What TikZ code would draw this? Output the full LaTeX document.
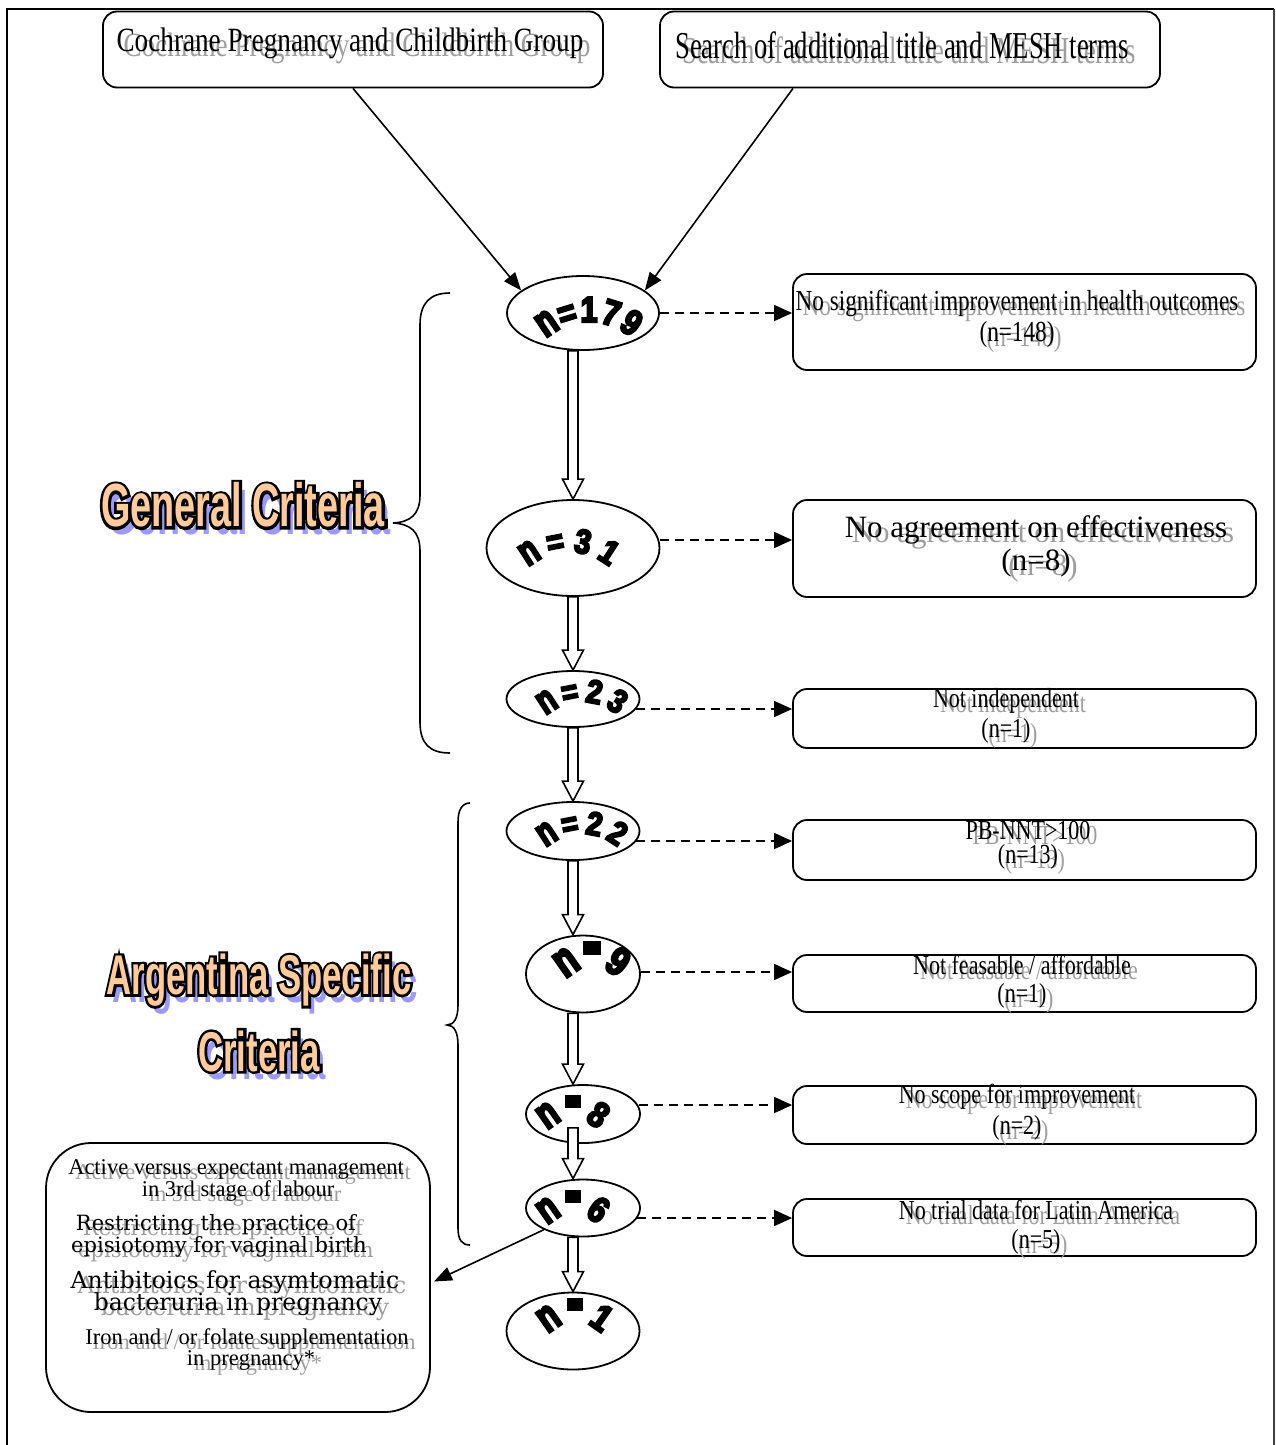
\documentclass[tikz,border=0pt]{standalone}
\usepackage{graphicx}
\usepackage{fontspec}
\setmainfont{Liberation Serif}
\newfontfamily\tnfont{Liberation Serif}[FakeStretch=0.8]
\newfontfamily\tmfont{Liberation Serif}[FakeStretch=0.7]
\newfontfamily\trfont{Liberation Serif}
\newfontfamily\bkfont{DejaVu Serif}
\newfontfamily\wafont{Liberation Sans Bold}[FakeStretch=0.85,FakeBold=6]
\newfontfamily\wbfont{Liberation Sans Bold}[FakeStretch=0.62]
\newfontfamily\wbofont{Liberation Sans Bold}[FakeStretch=0.62,FakeBold=9]
\usetikzlibrary{shapes.geometric,arrows.meta,calc}
\definecolor{peach}{HTML}{FFCC99}
\definecolor{lav}{HTML}{9999FF}
\newcommand\blksq{\raisebox{0.3em}{\rule{0.45em}{0.36em}}}
\newcommand\tallN{\scalebox{1}[1.2]{n}}
\newcommand\gtext[4]{%
  \node[ghost,font=#3] (#1g) at ($(#2)+(7,5)$) {#4};
  \node[txt,font=#3] (#1) at (#2) {#4};}
\newcommand\hollowarrow[3][0]{%
  \draw[hollowarr] let \p1=(#2.south), \p2=(#3.north) in
   (568pt,\y1+#1pt) -- (568pt,\y2+20pt) -- (562.5pt,\y2+20pt) -- (573pt,\y2)
   -- (583.5pt,\y2+20pt) -- (578pt,\y2+20pt) -- (578pt,\y1+#1pt) -- cycle;}
\newcommand\wordart[8]{%
  \foreach \ch [count=\idx from 0] in {#8} {%
    \pgfmathsetmacro\ang{#5+\idx*#6}%
    \pgfmathsetmacro\rot{-(\ang+90)}%
    \node[anchor=base,inner sep=0pt,rotate=\rot,font=\wafont\fontsize{#7}{#7}\selectfont]
      (#1-\idx) at ({#2+#4*cos(\ang)},{#3+#4*sin(\ang)}) {\ch};}}
\newcommand\watext[5]{%
  \node[txt,text=lav,font=\wbfont\fontsize{#4}{#4}\selectfont] (#1s) at ({#2+6},{#3+8}) {#5};
  \node[txt,text=black,font=\wbofont\fontsize{#4}{#4}\selectfont] (#1o) at (#2,#3) {#5};
  \node[txt,text=peach,font=\wbfont\fontsize{#4}{#4}\selectfont] (#1) at (#2,#3) {#5};}
\begin{document}
\begin{tikzpicture}[x=1pt,y=-1pt,
  txt/.style={inner sep=0pt,anchor=center},
  ghost/.style={txt,text=black!38},
  rbox/.style={draw,line width=1.8pt,rounded corners=14pt,inner sep=0pt},
  ell/.style={ellipse,draw,line width=1.8pt,fill=white,inner sep=0pt},
  hollowarr/.style={draw,line width=1.6pt,fill=white,line join=miter},
  dasharr/.style={line width=1.6pt,dash pattern=on 9pt off 6pt,-{Triangle[length=18pt,width=16pt]}},
  solidarr/.style={line width=1.6pt,-{Triangle[length=18pt,width=14pt]}},
  bracestyle/.style={line width=1.6pt}]
\useasboundingbox (0,0) rectangle (1275,1445);
% frame
\draw[line width=1.5pt] (7,1445) -- (7,9) -- (1274,9);
\draw[line width=2.5pt,black!75] (1274,9) -- (1274,1445);

% top boxes
\node[rbox,minimum width=500pt,minimum height=76pt] (c1) at (353,49.5) {};
\node[rbox,minimum width=500pt,minimum height=76pt] (c2) at (910,49.5) {};
\gtext{c1t}{350,43}{\tnfont\fontsize{34}{36}\selectfont}{Cochrane Pregnancy and Childbirth Group}
\gtext{c2t}{902,45}{\tmfont\fontsize{38}{40}\selectfont}{Search of additional title and MESH terms}

% right boxes
\node[rbox,minimum width=463pt,minimum height=96pt] (r1) at (1024.5,322) {};
\node[rbox,minimum width=463pt,minimum height=97pt] (r2) at (1024.5,548.5) {};
\node[rbox,minimum width=463pt,minimum height=59pt] (r3) at (1024.5,718.5) {};
\node[rbox,minimum width=463pt,minimum height=60pt] (r4) at (1024.5,850) {};
\node[rbox,minimum width=463pt,minimum height=57pt] (r5) at (1024.5,983.5) {};
\node[rbox,minimum width=463pt,minimum height=58pt] (r6) at (1024.5,1115) {};
\node[rbox,minimum width=463pt,minimum height=57pt] (r7) at (1024.5,1227.5) {};
\gtext{r1a}{1017,303}{\tnfont\fontsize{29}{30}\selectfont}{No significant improvement in health outcomes}
\gtext{r1b}{1017,335}{\tnfont\fontsize{29}{30}\selectfont}{(n=148)}
\gtext{r2a}{1036,530}{\trfont\fontsize{31}{33}\selectfont}{No agreement on effectiveness}
\gtext{r2b}{1036,563}{\trfont\fontsize{31}{33}\selectfont}{(n=8)}
\gtext{r3a}{1006,701}{\tnfont\fontsize{27.5}{29}\selectfont}{Not independent}
\gtext{r3b}{1006,731}{\tnfont\fontsize{27.5}{29}\selectfont}{(n=1)}
\gtext{r4a}{1028,830}{\tnfont\fontsize{27.5}{29}\selectfont}{PB-NNT>100}
\gtext{r4b}{1028,857}{\tnfont\fontsize{27.5}{29}\selectfont}{(n=13)}
\gtext{r5a}{1022,965}{\tnfont\fontsize{27.5}{29}\selectfont}{Not feasable / affordable}
\gtext{r5b}{1022,996}{\tnfont\fontsize{27.5}{29}\selectfont}{(n=1)}
\gtext{r6a}{1017,1097}{\tnfont\fontsize{27.5}{29}\selectfont}{No scope for improvement}
\gtext{r6b}{1017,1128}{\tnfont\fontsize{27.5}{29}\selectfont}{(n=2)}
\gtext{r7a}{1036,1210}{\tnfont\fontsize{27.5}{29}\selectfont}{No trial data for Latin America}
\gtext{r7b}{1036,1242}{\tnfont\fontsize{27.5}{29}\selectfont}{(n=5)}

% left bottom box
\node[draw,line width=1.8pt,rounded corners=45pt,minimum width=384pt,minimum height=269pt,inner sep=0pt] (lb) at (238,1277.5) {};
\gtext{l1}{236,1169}{\trfont\fontsize{22.5}{24}\selectfont}{Active versus expectant management}
\gtext{l2}{238,1191}{\trfont\fontsize{22.5}{24}\selectfont}{in 3rd stage of labour}
\gtext{l3}{216,1225}{\bkfont\fontsize{21}{23}\selectfont}{Restricting the practice of}
\gtext{l4}{219,1247}{\bkfont\fontsize{21}{23}\selectfont}{episiotomy for vaginal birth}
\gtext{l5}{235,1282}{\bkfont\fontsize{23.5}{25}\selectfont}{Antibitoics for asymtomatic}
\gtext{l6}{238,1304}{\bkfont\fontsize{23.5}{25}\selectfont}{bacteruria in pregnancy}
\gtext{l7}{247,1339}{\trfont\fontsize{22.5}{24}\selectfont}{Iron and / or folate supplementation}
\gtext{l8}{251,1360}{\trfont\fontsize{22.5}{24}\selectfont}{in pregnancy*}

% braces
\draw[bracestyle] (450,293) .. controls (430,293) and (420,303) .. (420,325) -- (420,495)
  .. controls (420,515) and (410,522) .. (393,523) .. controls (410,524) and (420,531) .. (420,551)
  -- (420,722) .. controls (420,744) and (430,753) .. (450,753);
\draw[bracestyle] (470,803) .. controls (462,803) and (458,810) .. (458,822) -- (458,1005)
  .. controls (458,1018) and (454,1025) .. (447,1025) .. controls (454,1025) and (458,1032) .. (458,1045)
  -- (458,1228) .. controls (458,1240) and (462,1245) .. (470,1245);

% WordArt titles
\watext{gc}{243}{505}{61}{General Criteria}
\watext{as}{259}{980}{56}{Argentina Specific}
\watext{cr}{259}{1051}{56}{Criteria}

% ellipses
\node[ell,minimum width=152pt,minimum height=74pt] (e179) at (583,313) {};
\node[ell,minimum width=173pt,minimum height=96pt] (e31) at (573,548) {};
\node[ell,minimum width=133pt,minimum height=56pt] (e23) at (573,699) {};
\node[ell,minimum width=133pt,minimum height=58pt] (e22) at (573,831) {};
\node[ell,minimum width=114pt,minimum height=77pt] (e9) at (583,974) {};
\node[ell,minimum width=114pt,minimum height=58pt] (e8) at (583,1114) {};
\node[ell,minimum width=114pt,minimum height=57pt] (e6) at (583,1208) {};
\node[ell,minimum width=133pt,minimum height=77pt] (e1) at (573,1331) {};

% hollow arrows
\hollowarrow{e179}{e31}
\hollowarrow{e31}{e23}
\hollowarrow{e23}{e22}
\hollowarrow{e22}{e9}
\hollowarrow{e9}{e8}
\hollowarrow[16]{e8}{e6}
\hollowarrow{e6}{e1}

% word art labels
\wordart{w179}{589}{386}{64}{-124}{17}{36}{\tallN,=,1,7,9}
\wordart{w31}{569}{614}{62}{-123}{22}{34}{\tallN,=,3,1}
\wordart{w23}{582}{756}{54}{-123}{22}{33}{\tallN,=,2,3}
\wordart{w22}{582}{888}{54}{-123}{22}{33}{\tallN,=,2,2}
\wordart{w9}{592}{999}{32}{-125}{35}{40}{\tallN,\blksq,9}
\wordart{w8}{573}{1151}{32}{-125}{35}{36}{\tallN,\blksq,8}
\wordart{w6}{573}{1246}{32}{-125}{35}{36}{\tallN,\blksq,6}
\wordart{w1}{575}{1356}{34}{-125}{35}{37}{\tallN,\blksq,1}

% top arrows
\coordinate (c2a) at ([xshift=-117pt]c2.south);
\draw[solidarr] (c1.south) -- (e179.160);
\draw[solidarr] (c2a) -- (e179.20);

% dashed arrows
\coordinate (d179) at (e179.east);
\coordinate (d31) at ($(e31.east)+(0,-8)$);
\coordinate (d23) at ($(e23.east)+(-4,10)$);
\coordinate (d22) at ($(e22.east)+(-4,10)$);
\coordinate (d9) at ($(e9.east)+(0,-2)$);
\coordinate (d8) at ($(e8.east)+(-2,-9)$);
\coordinate (d6) at ($(e6.east)+(-4,10)$);
\draw[dasharr] (d179) -- (d179 -| r1.west);
\draw[dasharr] (d31) -- (d31 -| r2.west);
\draw[dasharr] (d23) -- (d23 -| r3.west);
\draw[dasharr] (d22) -- (d22 -| r4.west);
\draw[dasharr] (d9) -- (d9 -| r5.west);
\draw[dasharr] (d8) -- (d8 -| r6.west);
\draw[dasharr] (d6) -- (d6 -| r7.west);

% arrow to left box
\draw[solidarr] (e6.209) -- ($(lb.east)+(3,4)$);
\end{tikzpicture}
\end{document}
